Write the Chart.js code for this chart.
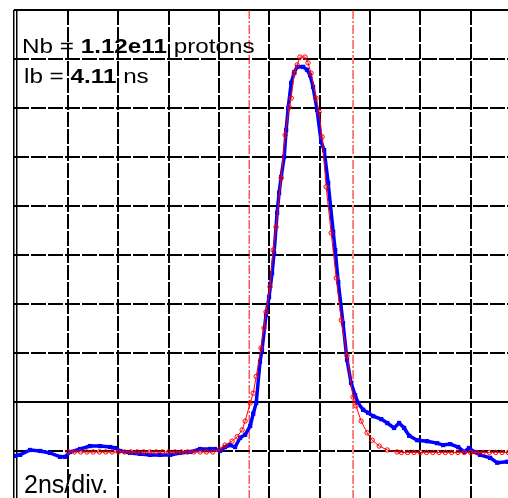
<!DOCTYPE html>
<html>
<head>
<meta charset="UTF-8">
<title>Bunch profile</title>
<script src="https://cdn.jsdelivr.net/npm/chart.js"></script>
<style>
    html, body { margin: 0; padding: 0; background: #fff; }
    .wrap { width: 508px; height: 498px; position: relative; }
</style>
</head>
<body>
<div class="wrap"><canvas id="scope"></canvas></div>
<script>
// measured profile (blue), time in ns, amplitude in divisions
const blueNs = [-0.11,0.09,0.49,0.89,1.28,1.68,1.88,2.08,2.48,2.87,3.27,3.67,3.87,4.07,4.47,4.86,5.26,5.66,6.06,6.45,
    6.85,7.25,7.65,7.84,8.04,8.24,8.44,8.64,8.84,9.04,9.24,9.36,9.48,9.63,9.71,9.87,9.99,10.11,10.19,10.31,
    10.39,10.47,10.59,10.67,10.75,10.87,10.99,11.11,11.34,11.50,11.62,11.74,11.90,12.06,12.18,12.34,12.54,12.62,12.74,12.93,
    13.09,13.25,13.41,13.53,13.73,13.93,14.13,14.45,14.69,14.96,15.16,15.36,15.56,15.88,16.27,16.67,16.91,17.19,17.51,17.75,
    17.94,18.15,18.38,18.78,19.06,19.46];
const blueSig = [-0.10,-0.08,0.02,0,-0.04,-0.12,-0.12,-0.02,0.04,0.10,0.10,0.08,0.06,0,-0.04,-0.06,-0.08,-0.08,-0.08,-0.04,
    -0.02,0.04,0.04,0.04,0,0.08,0.12,0.08,0.27,0.33,0.51,0.76,0.98,1.82,2.06,2.78,3.14,3.63,4.04,4.86,
    5.27,5.59,6.00,6.55,7.00,7.51,7.73,7.84,7.84,7.78,7.67,7.43,6.96,6.31,6.14,5.47,4.47,4.10,3.45,2.61,
    1.86,1.39,1.14,0.98,0.84,0.78,0.71,0.65,0.57,0.47,0.57,0.47,0.31,0.22,0.20,0.16,0.12,0.14,0.08,-0.02,
    0.06,-0.02,-0.08,-0.14,-0.24,-0.22];

// gaussian fit (red)
const fitNs = [2.00,2.25,2.50,2.75,3.00,3.25,3.50,3.75,4.00,4.25,4.50,4.75,5.00,5.25,5.50,5.75,6.00,6.25,6.50,6.75,
    7.00,7.25,7.50,7.75,8.04,8.24,8.52,8.72,8.92,9.04,9.24,9.36,9.48,9.67,9.79,9.87,10.03,10.15,10.27,10.47,
    10.63,10.79,10.87,10.99,11.11,11.22,11.42,11.54,11.66,11.86,11.98,12.10,12.26,12.46,12.66,12.86,13.09,13.33,13.45,13.65,
    13.89,14.09,14.37,14.69,15.08,15.25,15.50,15.75,16.00,16.25,16.50,16.75,17.00,17.25,17.50,17.75,18.00,18.25,18.50,18.75,
    19.00,19.25,19.50];
const fitSig = [-0.02,-0.02,-0.02,-0.02,-0.02,-0.02,-0.02,-0.02,-0.02,-0.02,-0.02,-0.02,-0.02,-0.02,-0.02,-0.02,-0.02,-0.02,-0.02,-0.02,
    -0.02,-0.02,-0.02,-0.02,0.04,0.12,0.20,0.29,0.43,0.61,0.98,1.18,1.52,2.10,2.51,2.84,3.35,4.10,4.57,5.57,
    6.45,7.02,7.20,7.71,7.88,8.04,8.04,7.92,7.71,7.20,6.92,6.41,5.39,4.45,3.53,2.67,1.94,1.10,0.92,0.61,
    0.37,0.22,0.10,0.02,-0.02,-0.03,-0.03,-0.03,-0.03,-0.03,-0.03,-0.03,-0.03,-0.03,-0.03,-0.03,-0.03,-0.03,-0.03,-0.03,
    -0.03,-0.03,-0.03];

// bunch length markers (ns)
const markerNs = [9.20, 13.33];

// screen grid: 2 ns/div horizontally, 1 div vertically
const gridNs = [2, 4, 6, 8, 10, 12, 14, 16, 18];
const frameNs = [-0.15, -0.03];
const gridDiv = [0, 1, 2, 3, 4, 5, 6, 7, 8, 9];
const solidDiv = [1, 9];

const xMin = -0.15, xMax = 19.49;
const yMin = -0.96, yMax = 9;

const labelsPlugin = {
    id: 'scopeText',
    afterDatasetsDraw(chart) {
        const ctx = chart.ctx;
        function write(parts, x, y, size, sx) {
            ctx.save();
            ctx.translate(x, y);
            ctx.scale(sx, 1);
            ctx.fillStyle = '#000';
            ctx.textBaseline = 'alphabetic';
            let cx = 0;
            parts.forEach(p => {
                ctx.font = (p[1] ? 'bold ' : '') + size + 'px "Liberation Sans", Arial, sans-serif';
                ctx.fillText(p[0], cx, 0);
                cx += ctx.measureText(p[0]).width;
            });
            ctx.restore();
        }
        write([['Nb = ', false], ['1.12e11', true], [' protons', false]], 22, 53, 21, 1.155);
        write([['lb = ', false], ['4.11', true], [' ns', false]], 24, 83, 21, 1.155);
        write([['2ns/div.', false]], 24, 493, 25, 1.0);
    }
};

const markerSets = markerNs.map(v => ({
    data: [{x: v, y: yMax}, {x: v, y: yMin}],
    borderColor: '#ff0000',
    borderWidth: 1,
    borderDash: [9, 2, 2, 2],
    pointRadius: 0,
    order: 3
}));

new Chart(document.getElementById('scope'), {
    type: 'line',
    data: {
        datasets: [{
            label: 'fit',
            data: fitNs.map((x, i) => ({x: x, y: fitSig[i]})),
            borderColor: '#ff0000',
            borderWidth: 1,
            pointStyle: 'circle',
            pointRadius: 2.2,
            pointBorderWidth: 1,
            pointBorderColor: '#ff0000',
            pointBackgroundColor: 'rgba(0,0,0,0)',
            order: 1
        }, {
            label: 'measured',
            data: blueNs.map((x, i) => ({x: x, y: blueSig[i]})),
            borderColor: '#0000ff',
            borderWidth: 3.5,
            pointStyle: 'rect',
            pointRadius: 3,
            pointBorderWidth: 0,
            pointBackgroundColor: '#0000ff',
            order: 2
        }, ...markerSets]
    },
    options: {
        responsive: true,
        maintainAspectRatio: false,
        animation: false,
        events: [],
        layout: { autoPadding: false, padding: { left: 14, top: 10, right: 0, bottom: 0 } },
        plugins: { legend: { display: false }, tooltip: { enabled: false } },
        scales: {
            x: {
                type: 'linear',
                min: xMin,
                max: xMax,
                afterBuildTicks: axis => { axis.ticks = frameNs.concat(gridNs).map(v => ({value: v})); },
                ticks: { display: false },
                grid: {
                    color: '#000',
                    lineWidth: c => frameNs.includes(c.tick && c.tick.value) ? 1.5 : 2,
                    drawTicks: false
                },
                border: {
                    display: false,
                    dash: c => frameNs.includes(c.tick && c.tick.value) ? [] : [15, 2]
                }
            },
            y: {
                type: 'linear',
                min: yMin,
                max: yMax,
                afterBuildTicks: axis => { axis.ticks = gridDiv.map(v => ({value: v})); },
                ticks: { display: false },
                grid: { color: '#000', lineWidth: 2, drawTicks: false },
                border: {
                    display: false,
                    dash: c => solidDiv.includes(c.tick && c.tick.value) ? [] : [15, 2]
                }
            }
        }
    },
    plugins: [labelsPlugin]
});
</script>
</body>
</html>
